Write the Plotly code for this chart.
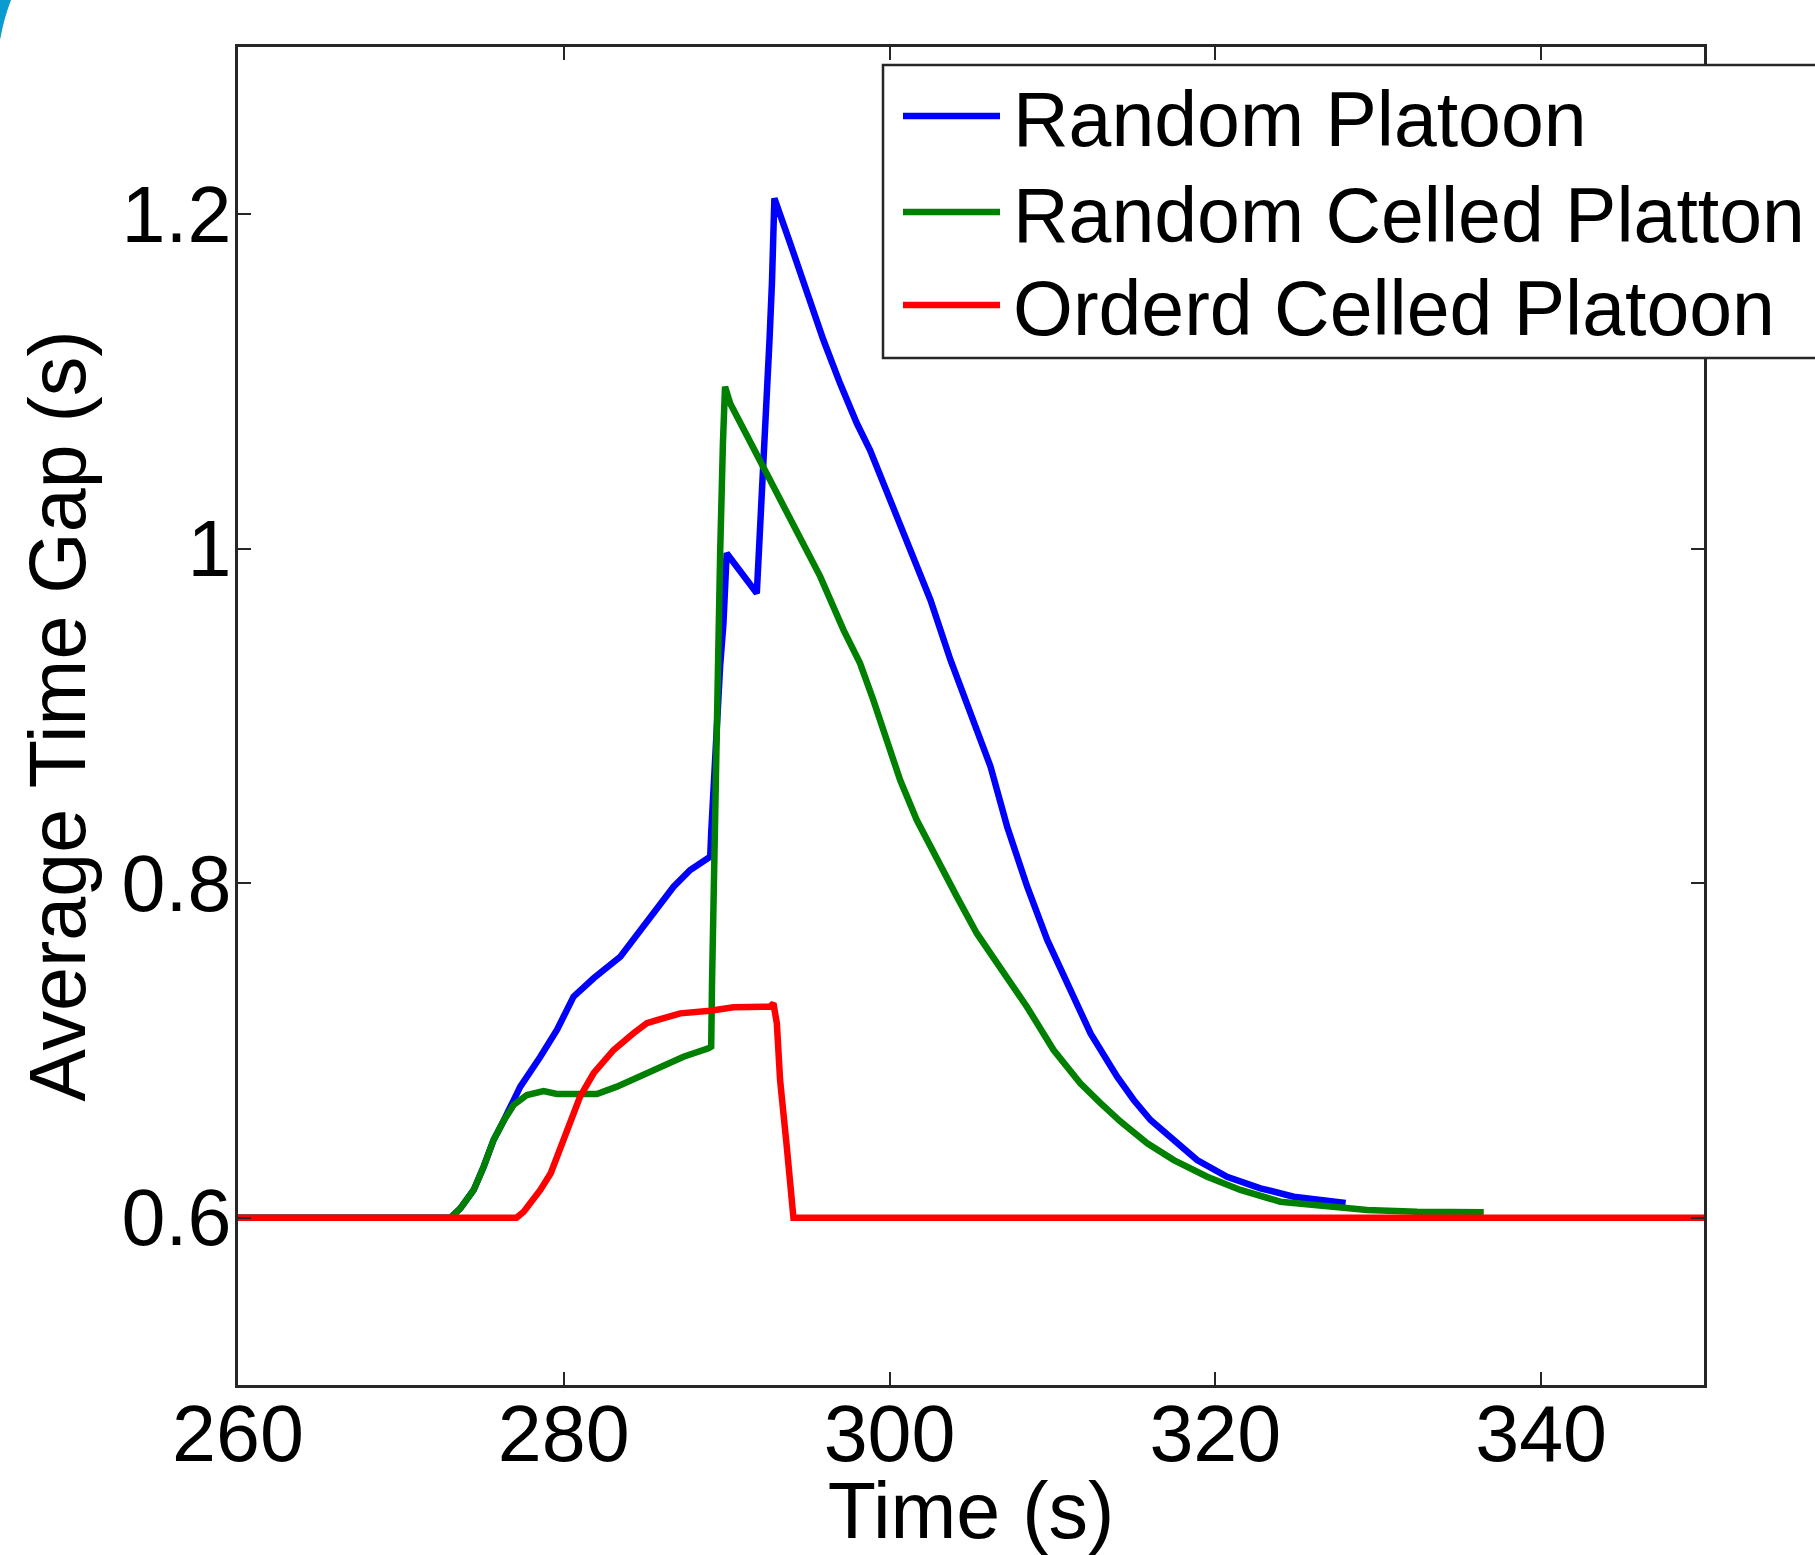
import plotly.graph_objects as go

# ---------------- data ----------------
random_platoon_x = [260, 273.04, 273.65, 274.47, 275.08, 275.69, 276.31, 277.33, 278.56, 279.58,
                    280.6, 281.83, 283.47, 284.9, 286.74, 287.76, 288.99, 289.05, 289.3, 289.6,
                    289.8, 290.0, 291.85, 291.95, 292.16, 292.36, 292.5, 292.63, 292.78, 292.88,
                    292.93, 293.9, 294.92, 295.94, 296.96, 297.99, 298.8, 300.85, 302.51, 303.74,
                    304.97, 306.2, 307.22, 308.45, 309.68, 310.9, 312.34, 313.97, 314.99, 316.02,
                    317.45, 318.88, 320.72, 322.77, 324.81, 327.27, 328.0]
random_platoon_y = [0.6, 0.6, 0.6056, 0.6166, 0.6305, 0.6465, 0.658, 0.6784, 0.6963, 0.7123,
                    0.7322, 0.7432, 0.7561, 0.774, 0.7979, 0.8079, 0.8159, 0.83, 0.88, 0.93,
                    0.955, 0.9973, 0.9734, 0.9913, 1.0251, 1.059, 1.0919, 1.1248, 1.1589, 1.1918,
                    1.2095, 1.1826, 1.1527, 1.1248, 1.0989, 1.075, 1.059, 1.0087, 0.9694, 0.9335,
                    0.9016, 0.8697, 0.8338, 0.7979, 0.7661, 0.7402, 0.7102, 0.6843, 0.6704, 0.6584,
                    0.6465, 0.6345, 0.6245, 0.6176, 0.6126, 0.6096, 0.6088]

random_celled_x = [260, 273.04, 273.65, 274.47, 275.08, 275.69, 276.31, 276.92, 277.74, 278.76,
                   279.58, 282.03, 283.26, 285.3, 287.35, 288.88, 289.05, 289.1, 289.2, 289.3,
                   289.5, 289.6, 289.77, 289.9, 290.21, 291.5, 292.8, 294.2, 295.74, 297.17,
                   298.19, 299.0, 299.83, 300.65, 301.67, 302.7, 304.13, 305.36, 306.79, 308.43,
                   310.07, 311.71, 312.95, 314.18, 315.82, 317.45, 319.5, 321.54, 323.99, 327.27,
                   329.32, 332.39, 336.48]
random_celled_y = [0.6, 0.6, 0.6056, 0.6166, 0.6305, 0.6465, 0.658, 0.6674, 0.6734, 0.6758,
                   0.674, 0.674, 0.6784, 0.6874, 0.6963, 0.7013, 0.7023, 0.74, 0.80, 0.87,
                   0.939, 0.9973, 1.0632, 1.0969, 1.087, 1.063, 1.038, 1.011, 0.9835, 0.9515,
                   0.9315, 0.9096, 0.8857, 0.8617, 0.8378, 0.8179, 0.792, 0.77, 0.7501, 0.7262,
                   0.7003, 0.6804, 0.6685, 0.6575, 0.6445, 0.6345, 0.6245, 0.6166, 0.6096, 0.6066,
                   0.6046, 0.6036, 0.6033]

ordered_celled_x = [260, 277.1, 277.54, 278.56, 279.2, 279.8, 280.4, 281.0, 281.83, 283.06,
                    284.28, 285.1, 285.72, 287.15, 288.99, 290.42, 292.67, 292.87, 293.08, 293.28,
                    293.69, 294.0, 294.1, 350]
ordered_celled_y = [0.6, 0.6, 0.6036, 0.6166, 0.6266, 0.6425, 0.658, 0.6724, 0.6864, 0.7003,
                    0.7103, 0.7163, 0.7182, 0.7222, 0.7238, 0.7258, 0.7262, 0.7282, 0.7163, 0.6823,
                    0.6425, 0.6106, 0.6, 0.6]

series_names = ["Random Platoon", "Random Celled Platton", "Orderd Celled Platoon"]
series_colors = ["#0000FF", "#008000", "#FF0000"]

x_ticks = [260, 280, 300, 320, 340]
y_ticks = [0.6, 0.8, 1.0, 1.2]
y_tick_labels = ["0.6", "0.8", "1", "1.2"]

# ---------------- figure ----------------
W, H = 1815, 1555
ML, MR, MT, MB = 238, 111, 47, 170
PW, PH = W - ML - MR, H - MT - MB
FONT = "Liberation Sans, Arial, sans-serif"
FS_AX = 79
FS_LEG = 77
AXC = "#262626"


def px_x(p):
    return (p - ML) / PW


def px_y(p):
    return (H - MB - p) / PH


fig = go.Figure()
xs = [random_platoon_x, random_celled_x, ordered_celled_x]
ys = [random_platoon_y, random_celled_y, ordered_celled_y]
for name, col, x, y in zip(series_names, series_colors, xs, ys):
    fig.add_trace(go.Scatter(x=x, y=y, mode="lines", name=name,
                             line=dict(color=col, width=6.5), showlegend=False))

axis_common = dict(showline=True, mirror="ticks", linecolor=AXC, linewidth=2.5,
                   ticks="inside", ticklen=13, tickwidth=2, tickcolor=AXC,
                   showgrid=False, zeroline=False,
                   tickfont=dict(family=FONT, size=FS_AX, color="black"))

fig.update_xaxes(range=[260, 350], tickvals=x_ticks, ticklabelstandoff=-22,
                 title=dict(text="Time (s)", font=dict(family=FONT, size=FS_AX, color="black"),
                            standoff=32),
                 **axis_common)
fig.update_yaxes(range=[0.5, 1.3], tickvals=y_ticks, ticktext=y_tick_labels,
                 ticklabelstandoff=-12,
                 title=dict(text="Average Time Gap (s)",
                            font=dict(family=FONT, size=FS_AX, color="black"), standoff=10),
                 **axis_common)

shapes = []
# legend box
shapes.append(dict(type="rect", xref="paper", yref="paper",
                   x0=px_x(883), x1=px_x(1840), y0=px_y(358), y1=px_y(65),
                   line=dict(color=AXC, width=2.5), fillcolor="white", layer="above"))
annotations = []
row_y = [116, 212, 305]
for name, col, ry in zip(series_names, series_colors, row_y):
    shapes.append(dict(type="line", xref="paper", yref="paper",
                       x0=px_x(903), x1=px_x(1000), y0=px_y(ry), y1=px_y(ry),
                       line=dict(color=col, width=6.5), layer="above"))
    annotations.append(dict(xref="paper", yref="paper", x=px_x(1011), y=px_y(ry + 3),
                            xanchor="left", yanchor="middle", showarrow=False,
                            text=name, font=dict(family=FONT, size=FS_LEG, color="black")))

# decorative blue corner
shapes.append(dict(type="path", xref="paper", yref="paper",
                   path=f"M {px_x(0)},{px_y(0)} L {px_x(11)},{px_y(0)} "
                        f"Q {px_x(4)},{px_y(18)} {px_x(0)},{px_y(40)} Z",
                   fillcolor="#0a9bd0", line=dict(width=0), layer="above"))

fig.update_layout(width=W, height=H, margin=dict(l=ML, r=MR, t=MT, b=MB, autoexpand=False),
                  paper_bgcolor="white", plot_bgcolor="white",
                  shapes=shapes, annotations=annotations,
                  font=dict(family=FONT, size=FS_AX, color="black"))

fig.write_html("out.html", config={"displayModeBar": False},
               post_script="document.body.style.margin='0';document.body.style.overflow='hidden';")
